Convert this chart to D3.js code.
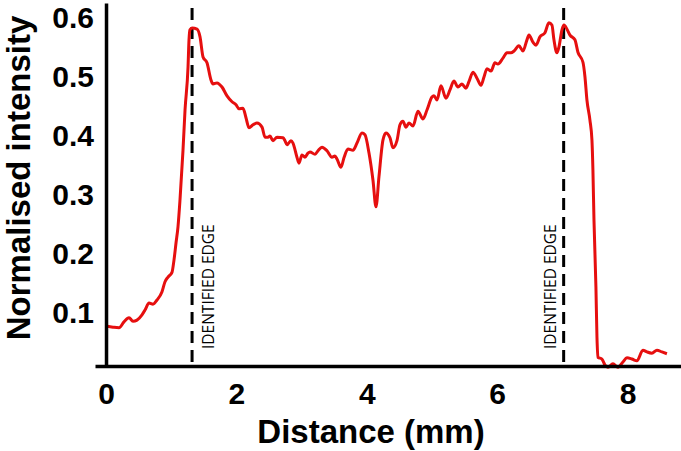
<!DOCTYPE html>
<html>
<head>
<meta charset="utf-8">
<script src="https://cdn.jsdelivr.net/npm/d3@7"></script>
<style>
  body { margin: 0; background: #fff; }
  svg { display: block; }
</style>
</head>
<body>
<div id="graph"></div>
<script>
// profile: distance (mm) and normalised intensity
const distance = [0.000,0.107,0.199,0.276,0.353,0.414,0.475,0.552,0.598,0.660,0.721,0.782,0.859,0.905,0.951,1.012,1.043,1.074,1.104,1.135,1.181,1.212,1.258,1.273,1.288,1.319,1.396,1.442,1.488,1.549,1.610,1.641,1.702,1.779,1.856,1.933,1.994,2.040,2.101,2.147,2.193,2.255,2.316,2.393,2.439,2.485,2.515,2.561,2.623,2.715,2.745,2.776,2.837,2.868,2.929,2.960,3.006,3.052,3.098,3.129,3.206,3.252,3.313,3.390,3.466,3.512,3.543,3.604,3.650,3.712,3.788,3.850,3.926,3.972,4.034,4.095,4.141,4.187,4.248,4.294,4.356,4.402,4.463,4.509,4.555,4.601,4.647,4.709,4.785,4.862,4.923,5.000,5.031,5.077,5.138,5.215,5.276,5.337,5.399,5.460,5.521,5.567,5.629,5.690,5.752,5.798,5.844,5.905,5.966,6.012,6.089,6.150,6.212,6.258,6.334,6.396,6.457,6.488,6.549,6.595,6.656,6.733,6.794,6.840,6.871,6.917,6.948,6.994,7.025,7.071,7.117,7.193,7.239,7.316,7.347,7.377,7.423,7.454,7.469,7.485,7.515,7.531,7.546,7.607,7.653,7.699,7.776,7.853,7.929,7.991,8.067,8.144,8.236,8.298,8.374,8.451,8.528,8.604];
const intensity = [0.078,0.076,0.075,0.085,0.092,0.086,0.088,0.097,0.105,0.117,0.115,0.122,0.136,0.153,0.161,0.169,0.190,0.219,0.246,0.292,0.376,0.444,0.517,0.563,0.580,0.583,0.581,0.568,0.534,0.524,0.495,0.488,0.490,0.483,0.468,0.458,0.453,0.446,0.447,0.431,0.414,0.419,0.422,0.415,0.398,0.398,0.400,0.392,0.398,0.397,0.392,0.385,0.392,0.388,0.364,0.354,0.368,0.364,0.371,0.373,0.369,0.375,0.381,0.375,0.364,0.366,0.361,0.347,0.363,0.378,0.376,0.388,0.405,0.402,0.371,0.325,0.280,0.331,0.393,0.405,0.397,0.380,0.392,0.419,0.425,0.415,0.422,0.417,0.442,0.429,0.444,0.466,0.468,0.461,0.485,0.464,0.478,0.493,0.483,0.488,0.481,0.492,0.508,0.498,0.486,0.500,0.514,0.510,0.524,0.522,0.532,0.541,0.541,0.544,0.553,0.544,0.563,0.571,0.559,0.554,0.568,0.575,0.592,0.588,0.563,0.541,0.551,0.580,0.588,0.581,0.571,0.563,0.542,0.525,0.500,0.461,0.427,0.393,0.342,0.258,0.144,0.059,0.025,0.022,0.012,0.008,0.014,0.008,0.017,0.024,0.022,0.019,0.037,0.034,0.032,0.037,0.034,0.031];

const xTicks = [0, 2, 4, 6, 8];
const yTicks = [0.1, 0.2, 0.3, 0.4, 0.5, 0.6];
const edges = [1.32, 7.02];
const edgeLabel = 'IDENTIFIED EDGE';

const w = 681, h = 451;

const xScale = d3.scaleLinear().domain([-0.169, 8.82]).range([95, 681]);
const yScale = d3.scaleLinear().domain([0.0102, 0.6254]).range([366, 3]);

const svg = d3.select('#graph').append('svg').attr('width', w).attr('height', h);

const data = distance.map((d, i) => [d, intensity[i]]);

// identified edges
svg.selectAll('line.edge').data(edges).enter().append('line')
    .attr('class', 'edge')
    .attr('x1', d => xScale(d)).attr('x2', d => xScale(d))
    .attr('y1', yScale.range()[1] + 5).attr('y2', yScale.range()[0])
    .attr('stroke', '#000').attr('stroke-width', 3)
    .attr('stroke-dasharray', '12,7');

svg.selectAll('text.edge').data(edges).enter().append('text')
    .attr('class', 'edge')
    .attr('transform', (d, i) => 'translate(' + (xScale(d) + (i == 0 ? 22 : -8)) + ',349) rotate(-90)')
    .style('font-family', '"Open Sans", sans-serif').style('font-size', '15.5px')
    .text(edgeLabel);

// profile
const line = d3.line().x(d => xScale(d[0])).y(d => yScale(d[1])).curve(d3.curveMonotoneX);
svg.append('path').datum(data)
    .attr('d', line).attr('fill', 'none')
    .attr('stroke', '#e60f0f').attr('stroke-width', 3).attr('stroke-linejoin', 'round');

// axes
const xAxis = d3.axisBottom(xScale).tickValues(xTicks).tickSize(0).tickPadding(17).tickFormat(d3.format('d'));
const yAxis = d3.axisLeft(yScale).tickValues(yTicks).tickSize(0).tickPadding(12).tickFormat(d3.format('.1f'));

const gx = svg.append('g').attr('transform', 'translate(0,' + yScale.range()[0] + ')').call(xAxis);
const gy = svg.append('g').attr('transform', 'translate(' + xScale(0) + ',0)').call(yAxis);

[gx, gy].forEach(g => {
  g.select('.domain').attr('stroke', '#000').attr('stroke-width', 3.5);
  g.selectAll('text').attr('fill', '#000')
    .style('font-family', '"Liberation Sans", Arial, sans-serif')
    .style('font-weight', 'bold').style('font-size', '30px');
});

svg.append('text')
    .attr('x', 371).attr('y', 443).attr('text-anchor', 'middle')
    .style('font-family', '"Liberation Sans", Arial, sans-serif')
    .style('font-weight', 'bold').style('font-size', '33px')
    .text('Distance (mm)');

svg.append('text')
    .attr('transform', 'translate(30,178) rotate(-90)').attr('text-anchor', 'middle')
    .style('font-family', '"Liberation Sans", Arial, sans-serif')
    .style('font-weight', 'bold').style('font-size', '33px')
    .text('Normalised intensity');
</script>
</body>
</html>
